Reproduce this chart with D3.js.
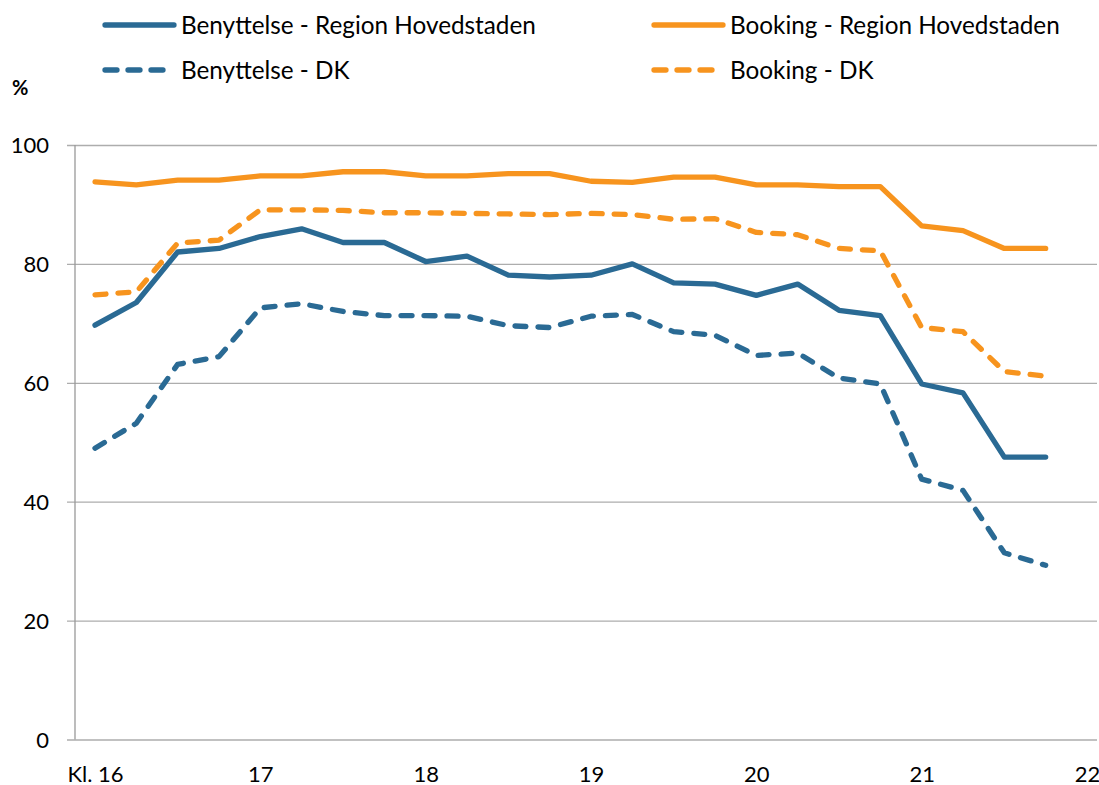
<!DOCTYPE html>
<html>
<head>
<meta charset="utf-8">
<script src="https://cdn.jsdelivr.net/npm/d3@7"></script>
<style>
  html, body { margin: 0; padding: 0; background: #fff; }
  svg { display: block; font-family: Lato, "Open Sans", sans-serif; }
</style>
</head>
<body>
<svg id="chart" width="1099" height="785"></svg>
<script>
// ---- data ----
const times = [16, 16.25, 16.5, 16.75, 17, 17.25, 17.5, 17.75, 18, 18.25, 18.5, 18.75,
               19, 19.25, 19.5, 19.75, 20, 20.25, 20.5, 20.75, 21, 21.25, 21.5, 21.75];
const benyttelseRH = [69.7, 73.5, 82.0, 82.6, 84.6, 85.9, 83.6, 83.6, 80.4, 81.3, 78.1, 77.8,
                      78.1, 80.0, 76.8, 76.6, 74.7, 76.6, 72.2, 71.3, 59.8, 58.3, 47.5, 47.5];
const bookingRH = [93.8, 93.3, 94.1, 94.1, 94.8, 94.8, 95.5, 95.5, 94.8, 94.8, 95.2, 95.2,
                   93.9, 93.7, 94.6, 94.6, 93.3, 93.3, 93.0, 93.0, 86.4, 85.6, 82.6, 82.6];
const benyttelseDK = [49.0, 53.2, 63.1, 64.4, 72.6, 73.3, 72.0, 71.3, 71.3, 71.2, 69.6, 69.3,
                      71.2, 71.5, 68.6, 68.0, 64.6, 65.0, 60.8, 59.8, 43.8, 41.9, 31.4, 29.3];
const bookingDK = [74.8, 75.3, 83.5, 84.0, 89.1, 89.1, 89.0, 88.6, 88.6, 88.5, 88.4, 88.3,
                   88.5, 88.3, 87.5, 87.6, 85.3, 84.9, 82.6, 82.2, 69.3, 68.6, 61.9, 61.1];
const xTickValues = [16, 17, 18, 19, 20, 21, 22];
const xTickLabels = ["Kl. 16", "17", "18", "19", "20", "21", "22"];
const yTickValues = [0, 20, 40, 60, 80, 100];
const seriesNames = ["Benyttelse - Region Hovedstaden", "Booking - Region Hovedstaden",
                     "Benyttelse - DK", "Booking - DK"];

// ---- style ----
const BLUE = "#2A6A94";
const ORANGE = "#F7941E";
const series = [
  { name: seriesNames[0], values: benyttelseRH, color: BLUE, dash: null },
  { name: seriesNames[1], values: bookingRH, color: ORANGE, dash: null },
  { name: seriesNames[2], values: benyttelseDK, color: BLUE, dash: "11,12" },
  { name: seriesNames[3], values: bookingDK, color: ORANGE, dash: "11,12" }
];

const svg = d3.select("#chart");
const x = d3.scaleLinear().domain([16, 22]).range([95, 1087]);
const y = d3.scaleLinear().domain([0, 100]).range([739.5, 145]);
const plotLeft = 75, plotRight = 1097;

// gridlines + y axis
const yAxis = d3.axisLeft(y).tickValues(yTickValues).tickSize(0).tickPadding(0);
const gy = svg.append("g").attr("transform", `translate(${plotLeft},0)`).call(yAxis);
gy.select(".domain").remove();
gy.selectAll(".tick line")
  .attr("x1", -8).attr("x2", plotRight - plotLeft)
  .attr("stroke", "#ADADAD").attr("stroke-width", 1.3);
gy.selectAll(".tick text")
  .attr("x", -26).attr("dy", "0.36em")
  .attr("font-size", 22).attr("fill", "#000")
  .attr("font-family", "Lato, 'Open Sans', sans-serif");

// vertical axis line
svg.append("line")
  .attr("x1", plotLeft).attr("x2", plotLeft)
  .attr("y1", y(100)).attr("y2", y(0))
  .attr("stroke", "#999").attr("stroke-width", 1.3);

// x axis labels
const xAxis = d3.axisBottom(x).tickValues(xTickValues)
  .tickFormat((d, i) => xTickLabels[i]).tickSize(0).tickPadding(0);
const gx = svg.append("g").attr("transform", `translate(0,${y(0)})`).call(xAxis);
gx.select(".domain").remove();
gx.selectAll(".tick text")
  .attr("y", 42).attr("dy", 0)
  .attr("font-size", 22).attr("fill", "#000")
  .attr("font-family", "Lato, 'Open Sans', sans-serif");

// lines
const line = d3.line().x((d, i) => x(times[i])).y(d => y(d));
series.forEach(s => {
  svg.append("path")
    .datum(s.values)
    .attr("d", line)
    .attr("fill", "none")
    .attr("stroke", s.color)
    .attr("stroke-width", 5.3)
    .attr("stroke-linejoin", "round")
    .attr("stroke-linecap", "round")
    .attr("stroke-dasharray", s.dash);
});

// legend
const legendPos = [
  { lx: 105, ly: 25 }, { lx: 654, ly: 25 },
  { lx: 105, ly: 70 }, { lx: 654, ly: 70 }
];
series.forEach((s, i) => {
  const p = legendPos[i];
  const g = svg.append("g").attr("transform", `translate(${p.lx},${p.ly})`);
  g.append("line")
    .attr("x1", 0).attr("x2", s.dash ? 62 : 69)
    .attr("y1", 0).attr("y2", 0)
    .attr("stroke", s.color).attr("stroke-width", 5.3)
    .attr("stroke-linecap", "round")
    .attr("stroke-dasharray", s.dash ? "12,11" : null);
  g.append("text")
    .attr("x", 76).attr("y", 0).attr("dy", "0.36em")
    .attr("font-size", 24.3).attr("fill", "#000")
    .text(s.name);
});

// unit label
svg.append("text")
  .attr("x", 12).attr("y", 95)
  .attr("font-size", 20).attr("font-weight", "bold").attr("fill", "#000")
  .text("%");
</script>
</body>
</html>
